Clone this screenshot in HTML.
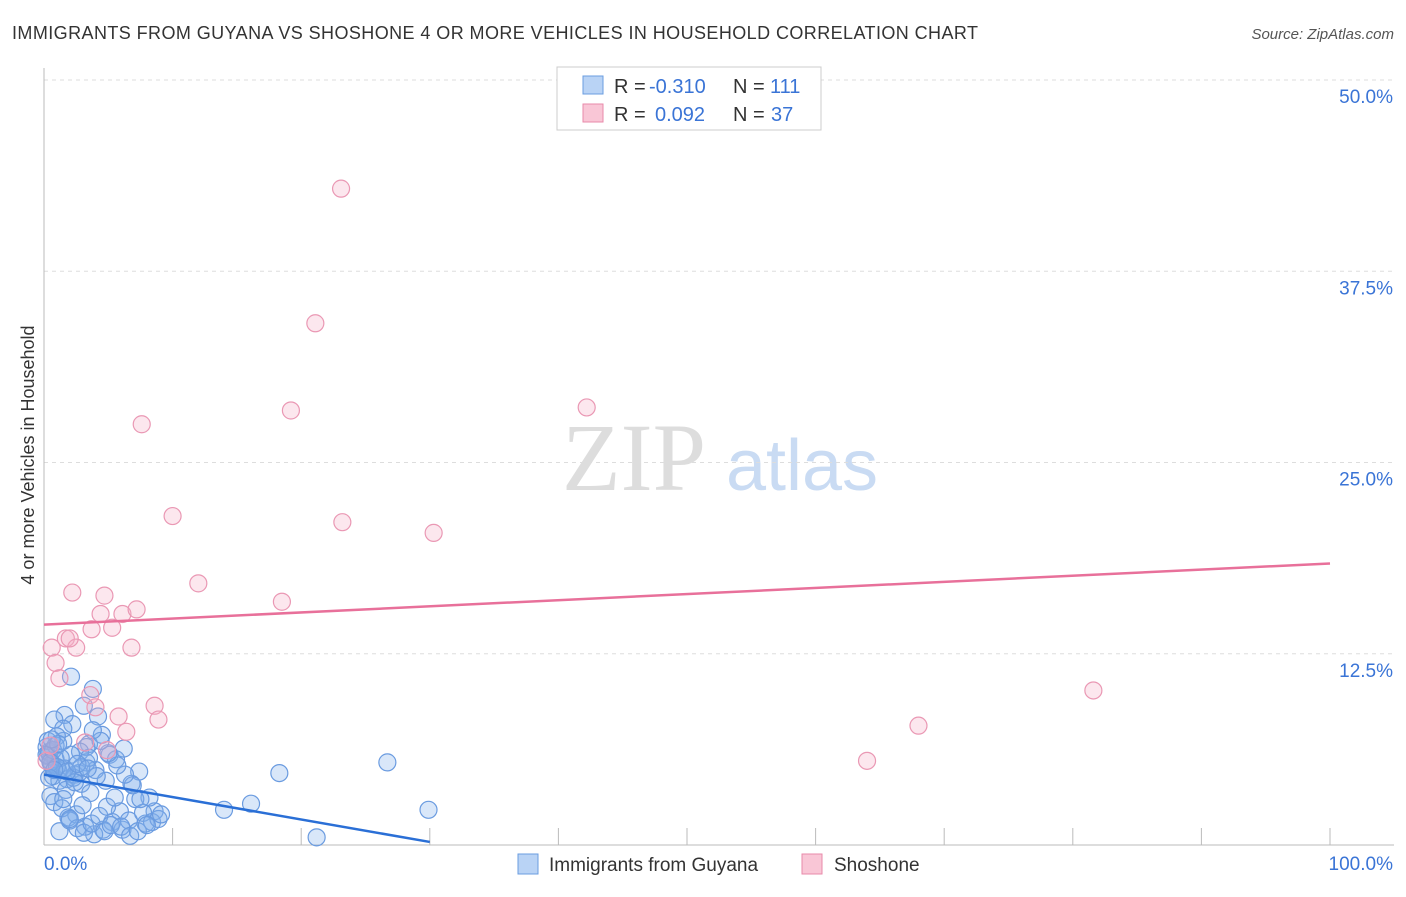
<!DOCTYPE html>
<html><head><meta charset="utf-8"><style>
body{margin:0;background:#fff;font-family:"Liberation Sans",sans-serif;}
</style></head><body>
<svg width="1406" height="892" xmlns="http://www.w3.org/2000/svg">
<text x="12" y="39" font-size="18" fill="#333" textLength="966">IMMIGRANTS FROM GUYANA VS SHOSHONE 4 OR MORE VEHICLES IN HOUSEHOLD CORRELATION CHART</text>
<text x="1394" y="39" font-size="15" fill="#555" font-style="italic" text-anchor="end">Source: ZipAtlas.com</text>
<text x="634" y="490" font-size="96" fill="#ddd" font-family="Liberation Serif" text-anchor="middle">ZIP</text>
<text x="802" y="490" font-size="72" fill="#c9dbf3" text-anchor="middle">atlas</text>
<g id="grid"></g>
<g id="axes"></g>
<g id="marks"></g>
<text transform="translate(34,455) rotate(-90)" font-size="18" fill="#333" text-anchor="middle">4 or more Vehicles in Household</text>
<g>
<rect x="557" y="67" width="264" height="63" fill="#fff" stroke="#ccc"/>
<rect x="583" y="76" width="20" height="18" fill="#b9d3f5" stroke="#6a9de0"/>
<rect x="583" y="104" width="20" height="18" fill="#f9c6d6" stroke="#e88aaa"/>
<text x="614" y="93" font-size="20" fill="#333">R =</text>
<text x="649" y="93" font-size="20" fill="#3a74d6">-0.310</text>
<text x="733" y="93" font-size="20" fill="#333">N =</text>
<text x="770" y="93" font-size="20" fill="#3a74d6">111</text>
<text x="614" y="121" font-size="20" fill="#333">R =</text>
<text x="655" y="121" font-size="20" fill="#3a74d6">0.092</text>
<text x="733" y="121" font-size="20" fill="#333">N =</text>
<text x="771" y="121" font-size="20" fill="#3a74d6">37</text>
</g>
<g>
<rect x="518" y="854" width="20" height="20" fill="#b9d3f5" stroke="#6a9de0"/>
<text x="549" y="871" font-size="19" fill="#333">Immigrants from Guyana</text>
<rect x="802" y="854" width="20" height="20" fill="#f9c6d6" stroke="#e88aaa"/>
<text x="834" y="871" font-size="19" fill="#333">Shoshone</text>
</g>
</svg>
<script>
const yTicks=[12.5,25,37.5,50];
const yTickLabels=["12.5%","25.0%","37.5%","50.0%"];
const xEnds=["0.0%","100.0%"];
const shoshoneX=[23.1,21.1,19.2,42.2,7.6,10.0,23.2,30.3,12.0,2.2,18.5,4.7,4.4,6.1,7.2,3.7,5.3,1.7,0.6,2.5,6.8,0.9,1.2,3.6,8.6,4.0,8.9,5.8,6.4,4.9,3.2,81.6,68.0,64.0,0.5,0.2,2.0];
const shoshoneY=[42.9,34.1,28.4,28.6,27.5,21.5,21.1,20.4,17.1,16.5,15.9,16.3,15.1,15.1,15.4,14.1,14.2,13.5,12.9,12.9,12.9,11.9,10.9,9.8,9.1,9.0,8.2,8.4,7.4,6.2,6.7,10.1,7.8,5.5,6.5,5.5,13.5];
const guyanaX=[26.7,29.9,18.3,21.2,16.1,14.0,7.4,8.6,8.2,7.9,2.1,3.8,3.1,1.6,2.2,4.2,3.5,0.8,1.5,3.3,4.5,5.1,2.8,0.3,0.5,0.6,0.4,0.9,1.1,1.3,0.2,0.7,1.8,2.4,2.9,3.6,4.0,4.8,5.6,6.2,6.8,7.1,5.9,5.3,4.6,3.9,3.2,2.5,1.9,1.2,0.5,0.8,1.4,2.0,2.6,3.1,3.7,4.3,4.9,5.5,6.1,6.6,7.7,8.4,8.9,9.1,7.5,6.9,6.3,5.7,5.0,4.4,3.8,3.3,2.7,2.1,1.5,1.0,0.4,0.6,1.2,1.7,2.3,2.9,3.5,4.1,0.3,0.9,1.6,2.4,0.2,0.7,1.3,0.5,1.0,1.8,2.6,3.4,4.7,5.2,6.0,6.7,7.3,8.0,0.4,0.8,1.1,1.5,2.0,3.0,0.6];
const guyanaY=[5.4,2.3,4.7,0.5,2.7,2.3,4.8,2.2,3.1,1.4,11.0,10.2,9.1,8.5,7.9,8.4,6.6,8.2,7.6,6.4,7.2,5.9,6.1,5.8,5.5,5.2,6.0,5.6,4.9,5.0,6.4,4.5,4.3,4.6,4.0,3.4,4.9,4.2,5.6,6.3,4.0,3.0,2.2,1.5,1.0,0.7,1.2,2.0,1.8,0.9,3.2,2.8,2.4,1.6,1.1,0.8,1.4,1.9,2.5,3.1,1.0,1.6,2.1,1.5,1.7,2.0,3.0,3.9,4.6,5.2,6.0,6.8,7.5,5.4,4.7,5.9,6.8,7.1,6.1,5.3,4.2,3.6,4.4,5.1,5.7,4.5,6.8,6.5,5.0,4.1,5.9,6.2,5.7,5.4,5.1,4.8,5.3,5.0,0.9,1.3,1.2,0.6,0.9,1.3,4.4,4.9,6.6,3.0,1.7,2.6,6.9];
const guyanaTrend=[4.6,0.2];const guyanaTrendX=[0,30];
const shoshoneTrend=[14.4,18.4];const shoshoneTrendX=[0,100];
const X0=44,X1=1330,Y0=845,Y50=80;
const sx=v=>X0+(X1-X0)*v/100, sy=v=>Y0-(Y0-Y50)*v/50;
const NS="http://www.w3.org/2000/svg";
function mk(t,a,p){const e=document.createElementNS(NS,t);for(const k in a)e.setAttribute(k,a[k]);p.appendChild(e);return e;}
const grid=document.getElementById('grid'),axes=document.getElementById('axes'),marks=document.getElementById('marks');
yTicks.forEach((t,i)=>{
 const l=mk('line',{x1:X0,x2:1394,y1:sy(t),y2:sy(t),stroke:'#ddd','stroke-dasharray':'4,4'},grid);
 
 
 const tx=mk('text',{x:1393,y:sy(t)+23,'font-size':19,fill:'#3a74d6','text-anchor':'end'},axes);
 tx.textContent=yTickLabels[i];
 
 
});
let a=mk('line',{x1:X0,x2:X0,y1:68,y2:Y0,stroke:'#bbb'},axes);


a=mk('line',{x1:X0,x2:1394,y1:Y0,y2:Y0,stroke:'#bbb'},axes);


for(let i=1;i<=10;i++){const t=mk('line',{x1:sx(i*10),x2:sx(i*10),y1:Y0,y2:Y0-17,stroke:'#bbb'},axes);
 
 }
[[X0,'start',0],[1393,'end',1]].forEach(([x,an,i])=>{const t=mk('text',{x:x,y:870,'font-size':19,fill:'#3a74d6','text-anchor':an},axes);t.textContent=xEnds[i];
 
 });
guyanaX.forEach((v,i)=>{const c=mk('circle',{cx:sx(v),cy:sy(guyanaY[i]),r:8.5,fill:'rgba(130,175,235,0.3)',stroke:'#6a9be0','stroke-width':1.2},marks);
 
 });
shoshoneX.forEach((v,i)=>{const c=mk('circle',{cx:sx(v),cy:sy(shoshoneY[i]),r:8.5,fill:'rgba(245,175,200,0.3)',stroke:'#ea98b4','stroke-width':1.2},marks);
 
 });
let tl=mk('line',{x1:sx(guyanaTrendX[0]),y1:sy(guyanaTrend[0]),x2:sx(guyanaTrendX[1]),y2:sy(guyanaTrend[1]),stroke:'#2a6fd6','stroke-width':2.5},marks);


tl=mk('line',{x1:sx(shoshoneTrendX[0]),y1:sy(shoshoneTrend[0]),x2:sx(shoshoneTrendX[1]),y2:sy(shoshoneTrend[1]),stroke:'#e8709a','stroke-width':2.5},marks);


</script>
</body></html>
